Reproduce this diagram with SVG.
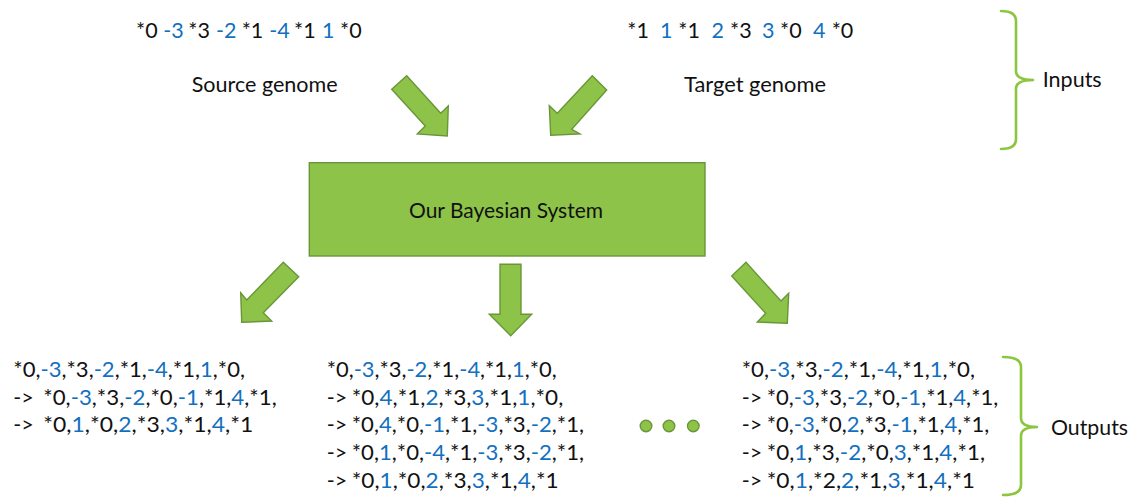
<svg xmlns="http://www.w3.org/2000/svg" width="1139" height="498" viewBox="0 0 1139 498">
  <style>
    text { font-family: Lato, "Open Sans", "Liberation Sans", sans-serif; font-size: 21.5px; fill: #111; }
    .b { fill: #1270C0; }
    .shape { fill: #8DC349; stroke: #6A9638; stroke-width: 1.4; stroke-linejoin: miter; }
    .brace { fill: none; stroke: #8CC63F; stroke-width: 2.6; stroke-linecap: round; stroke-linejoin: round; }
  </style>
  <rect width="1139" height="498" fill="#ffffff"/>

  <!-- input genomes -->
  <g id="source-genome">
    <text y="38.3"><tspan x="136">*0</tspan><tspan class="b" x="163.3">-3</tspan><tspan x="188.3">*3</tspan><tspan class="b" x="216">-2</tspan><tspan x="241.7">*1</tspan><tspan class="b" x="269.3">-4</tspan><tspan x="294">*1</tspan><tspan class="b" x="322">1</tspan><tspan x="340">*0</tspan></text>
    <text x="191.7" y="91.7" textLength="146" lengthAdjust="spacingAndGlyphs">Source genome</text>
  </g>
  <g id="target-genome">
    <text y="38.3"><tspan x="627.3">*1</tspan><tspan class="b" x="660">1</tspan><tspan x="678.3">*1</tspan><tspan class="b" x="711.5">2</tspan><tspan x="730">*3</tspan><tspan class="b" x="762">3</tspan><tspan x="780">*0</tspan><tspan class="b" x="813">4</tspan><tspan x="831.7">*0</tspan></text>
    <text x="684" y="92.3" textLength="142" lengthAdjust="spacingAndGlyphs">Target genome</text>
  </g>

  <!-- central model -->
  <g id="bayesian-system">
    <rect class="shape" x="309.3" y="162.7" width="395.7" height="93.3"/>
    <text x="409" y="218.3" textLength="194" lengthAdjust="spacingAndGlyphs">Our Bayesian System</text>
  </g>

  <!-- block arrows -->
  <g id="connectors">
    <polygon class="shape" points="406.7,75.7 440.7,113.3 448.3,106 447.3,136 417.3,134 425.3,126 391.7,89.3"/>
    <polygon class="shape" points="592.3,75.7 606.7,90 571.7,129.3 580,134 550.7,135.3 549.3,105.7 557.3,113.3"/>
    <polygon class="shape" points="283.3,262.3 298.7,276.7 263.3,312.7 271.7,321 241.7,322.3 240.7,292.7 246.7,300"/>
    <polygon class="shape" points="500,264.3 521,264.3 521,314.3 531.7,314.3 510.7,335.7 489.3,314.3 500,314.3"/>
    <polygon class="shape" points="746,262.3 731.7,276 765.7,313.3 757.3,322 787.3,323.3 788.7,293.3 781,301"/>
  </g>

  <!-- output sequences -->
  <g id="output-1">
    <text x="13.3" y="377" textLength="231.7" lengthAdjust="spacingAndGlyphs">*0,<tspan class="b">-3</tspan>,*3,<tspan class="b">-2</tspan>,*1,<tspan class="b">-4</tspan>,*1,<tspan class="b">1</tspan>,*0,</text>
    <text x="13.3" y="404.7">-&gt;</text>
    <text x="43.3" y="404.7" textLength="233.4" lengthAdjust="spacingAndGlyphs">*0,<tspan class="b">-3</tspan>,*3,<tspan class="b">-2</tspan>,*0,<tspan class="b">-1</tspan>,*1,<tspan class="b">4</tspan>,*1,</text>
    <text x="13.3" y="432.4">-&gt;</text>
    <text x="43.3" y="432.4" textLength="210" lengthAdjust="spacingAndGlyphs">*0,<tspan class="b">1</tspan>,*0,<tspan class="b">2</tspan>,*3,<tspan class="b">3</tspan>,*1,<tspan class="b">4</tspan>,*1</text>
  </g>
  <g id="output-2">
    <text x="326.7" y="377" textLength="230" lengthAdjust="spacingAndGlyphs">*0,<tspan class="b">-3</tspan>,*3,<tspan class="b">-2</tspan>,*1,<tspan class="b">-4</tspan>,*1,<tspan class="b">1</tspan>,*0,</text>
    <text x="326.7" y="404.7">-&gt;</text>
    <text x="351.7" y="404.7" textLength="211.6" lengthAdjust="spacingAndGlyphs">*0,<tspan class="b">4</tspan>,*1,<tspan class="b">2</tspan>,*3,<tspan class="b">3</tspan>,*1,<tspan class="b">1</tspan>,*0,</text>
    <text x="326.7" y="432.4">-&gt;</text>
    <text x="351.7" y="432.4" textLength="232.3" lengthAdjust="spacingAndGlyphs">*0,<tspan class="b">4</tspan>,*0,<tspan class="b">-1</tspan>,*1,<tspan class="b">-3</tspan>,*3,<tspan class="b">-2</tspan>,*1,</text>
    <text x="326.7" y="460.1">-&gt;</text>
    <text x="351.7" y="460.1" textLength="232.3" lengthAdjust="spacingAndGlyphs">*0,<tspan class="b">1</tspan>,*0,<tspan class="b">-4</tspan>,*1,<tspan class="b">-3</tspan>,*3,<tspan class="b">-2</tspan>,*1,</text>
    <text x="326.7" y="487.8">-&gt;</text>
    <text x="351.7" y="487.8" textLength="207" lengthAdjust="spacingAndGlyphs">*0,<tspan class="b">1</tspan>,*0,<tspan class="b">2</tspan>,*3,<tspan class="b">3</tspan>,*1,<tspan class="b">4</tspan>,*1</text>
  </g>
  <g id="output-n">
    <text x="741.7" y="377" textLength="233.3" lengthAdjust="spacingAndGlyphs">*0,<tspan class="b">-3</tspan>,*3,<tspan class="b">-2</tspan>,*1,<tspan class="b">-4</tspan>,*1,<tspan class="b">1</tspan>,*0,</text>
    <text x="741.7" y="404.7">-&gt;</text>
    <text x="766.7" y="404.7" textLength="231.6" lengthAdjust="spacingAndGlyphs">*0,<tspan class="b">-3</tspan>,*3,<tspan class="b">-2</tspan>,*0,<tspan class="b">-1</tspan>,*1,<tspan class="b">4</tspan>,*1,</text>
    <text x="741.7" y="432.4">-&gt;</text>
    <text x="766.7" y="432.4" textLength="222.6" lengthAdjust="spacingAndGlyphs">*0,<tspan class="b">-3</tspan>,*0,<tspan class="b">2</tspan>,*3,<tspan class="b">-1</tspan>,*1,<tspan class="b">4</tspan>,*1,</text>
    <text x="741.7" y="460.1">-&gt;</text>
    <text x="766.7" y="460.1" textLength="218.3" lengthAdjust="spacingAndGlyphs">*0,<tspan class="b">1</tspan>,*3,<tspan class="b">-2</tspan>,*0,<tspan class="b">3</tspan>,*1,<tspan class="b">4</tspan>,*1,</text>
    <text x="741.7" y="487.8">-&gt;</text>
    <text x="766.7" y="487.8" textLength="208.3" lengthAdjust="spacingAndGlyphs">*0,<tspan class="b">1</tspan>,*2,<tspan class="b">2</tspan>,*1,<tspan class="b">3</tspan>,*1,<tspan class="b">4</tspan>,*1</text>
  </g>

  <!-- ellipsis between outputs -->
  <g id="ellipsis">
    <circle class="shape" cx="646" cy="426" r="5.8"/>
    <circle class="shape" cx="669" cy="426" r="5.8"/>
    <circle class="shape" cx="693.3" cy="426" r="5.8"/>
  </g>

  <!-- group braces -->
  <g id="inputs-label">
    <path class="brace" d="M1001,11 Q1016,11 1016,21 L1016,71 Q1016,80 1033,80 Q1016,80 1016,89 L1016,139 Q1016,149 1001,149"/>
    <text x="1042.7" y="87.3" textLength="59" lengthAdjust="spacingAndGlyphs">Inputs</text>
  </g>
  <g id="outputs-label">
    <path class="brace" d="M1003,357 Q1021,357 1021,367 L1021,418 Q1021,427 1037,427 Q1021,427 1021,436 L1021,485 Q1021,495 1003,495"/>
    <text x="1051" y="434.5" textLength="77" lengthAdjust="spacingAndGlyphs">Outputs</text>
  </g>
</svg>
